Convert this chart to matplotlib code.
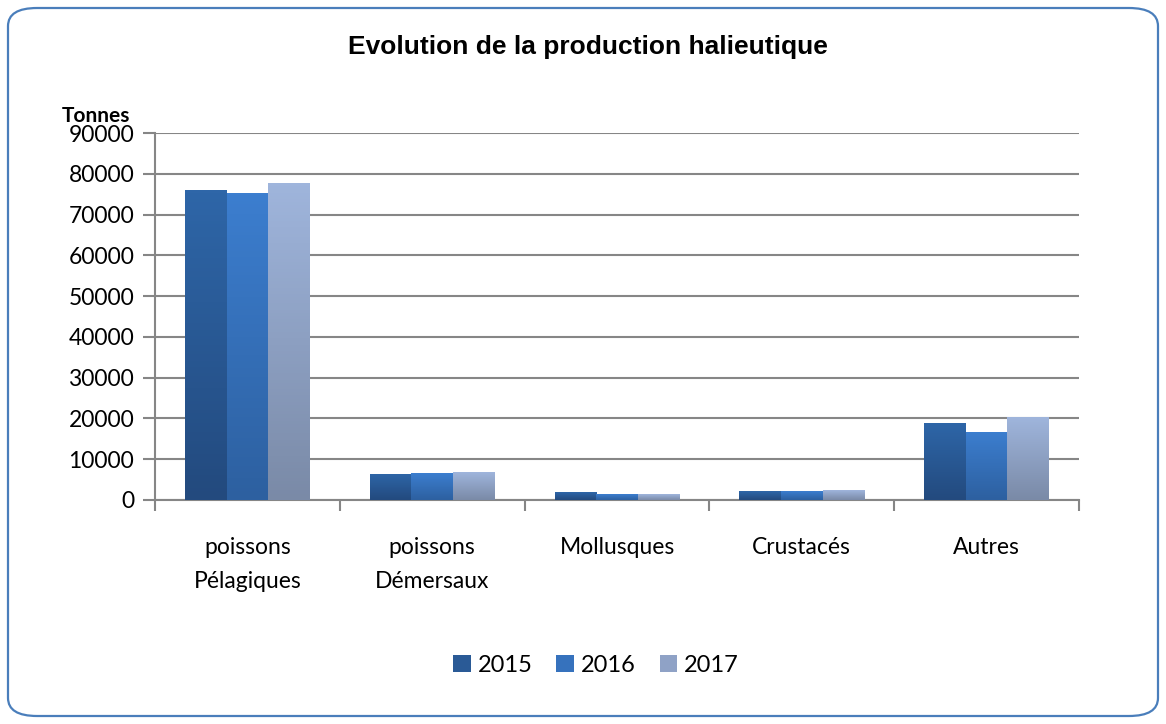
import matplotlib
matplotlib.use("Agg")
import matplotlib.pyplot as plt
import numpy as np
from matplotlib.patches import FancyBboxPatch, Patch
from matplotlib.colors import LinearSegmentedColormap

categories = ["poissons\nPélagiques", "poissons\nDémersaux", "Mollusques", "Crustacés", "Autres"]
years = ["2015", "2016", "2017"]
v2015 = [76000, 6400, 1950, 2200, 18900]
v2016 = [75300, 6600, 1450, 2200, 16700]
v2017 = [77700, 6850, 1450, 2450, 20300]
yticks = [0, 10000, 20000, 30000, 40000, 50000, 60000, 70000, 80000, 90000]

# (top colour, bottom colour) for the gradient fill
grads = [("#2e66a8", "#234a7e"), ("#3c7ecf", "#2d60a0"), ("#9fb5dc", "#7a8aa7")]
mids = ["#2a5a96", "#3672bd", "#8fa2c6"]

plt.rcParams['font.family'] = ['Lato', 'DejaVu Sans']

fig = plt.figure(figsize=(11.66, 7.24), dpi=100)
ax = fig.add_axes([155/1166, 1-500/724, (1079-155)/1166, (500-133)/724])

border = FancyBboxPatch((8/1166, 8/724), (1158-8)/1166, (716-8)/724,
                        boxstyle="round,pad=0,rounding_size=0.025",
                        transform=fig.transFigure, facecolor="white",
                        edgecolor="#4a7ebb", linewidth=1.6, zorder=-10)
fig.patches.append(border)

x = np.arange(len(categories))
w = 0.225
series = [v2015, v2016, v2017]
for i, vals in enumerate(series):
    bars = ax.bar(x + (i-1)*w, vals, w, facecolor="none", edgecolor="none", zorder=3)
    cmap = LinearSegmentedColormap.from_list("g%d" % i, [grads[i][1], grads[i][0]])
    for b in bars:
        x0, y0 = b.get_x(), b.get_y()
        grad = np.linspace(0, 1, 100).reshape(-1, 1)
        im = ax.imshow(grad, cmap=cmap, origin="lower", aspect="auto",
                       extent=[x0, x0 + b.get_width(), y0, y0 + b.get_height()],
                       zorder=3)
        im.set_clip_path(b)

ax.set_xlim(-0.5, len(categories)-0.5)
ax.set_ylim(0, 90000)
ax.set_yticks(yticks)
ax.set_yticklabels([str(t) for t in yticks], fontsize=16.5)
ax.set_xticks(np.arange(len(categories)+1) - 0.5, minor=False)
ax.set_xticklabels([])
ax.set_xticks(x, minor=True)
ax.set_xticklabels(categories, minor=True, fontsize=16.5, linespacing=1.75)
ax.tick_params(axis="x", which="minor", length=0, pad=27)
ax.tick_params(axis="x", which="major", length=8, color="#868686", width=1.5)
ax.tick_params(axis="y", length=9, color="#868686", width=1.5, pad=6)

ax.grid(axis="y", color="#868686", linewidth=1.5, zorder=0)
ax.set_axisbelow(True)
for s in ["top", "right"]:
    ax.spines[s].set_visible(False)
for s in ["left", "bottom"]:
    ax.spines[s].set_color("#868686")
    ax.spines[s].set_linewidth(1.5)

fig.text(588/1166, 1-47/724, "Evolution de la production halieutique",
         ha="center", va="center", fontsize=19, fontweight="bold",
         family=["Liberation Sans", "DejaVu Sans"])
fig.text(62/1166, 1-126/724, "Tonnes", ha="left", va="bottom",
         fontsize=15, fontweight="bold")

handles = [Patch(facecolor=mids[i], edgecolor="none") for i in range(3)]
fig.legend(handles, years, loc="center", bbox_to_anchor=(596/1166, 1-665/724),
           ncol=3, frameon=False, fontsize=17, handlelength=0.75,
           handleheight=0.75, handletextpad=0.3, columnspacing=1.0)

fig.savefig("out.png", dpi=100)
